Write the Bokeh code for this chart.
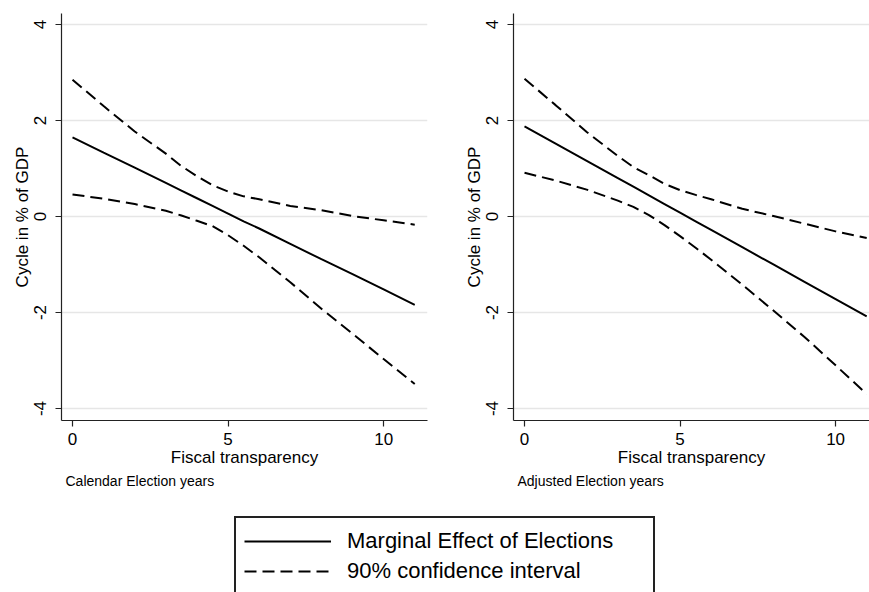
from bokeh.plotting import figure
from bokeh.models import FixedTicker, Title, Legend, LegendItem, Range1d, PrintfTickFormatter
from bokeh.layouts import column, row
from bokeh.embed import file_html
from bokeh.resources import INLINE

# ---- data ----
transparency = [0, 1, 2, 3, 3.5, 4, 4.5, 5, 5.5, 6, 7, 8, 9, 10, 11]

cal_effect = [1.65, 1.33, 1.02, 0.70, 0.54, 0.38, 0.22, 0.06, -0.10, -0.25, -0.57, -0.89, -1.20, -1.52, -1.84]
cal_upper = [2.85, 2.30, 1.77, 1.31, 1.05, 0.84, 0.65, 0.52, 0.42, 0.36, 0.22, 0.13, 0.01, -0.08, -0.17]
cal_lower = [0.46, 0.37, 0.26, 0.12, 0.02, -0.09, -0.20, -0.39, -0.61, -0.85, -1.37, -1.92, -2.44, -2.97, -3.49]

adj_effect = [1.88, 1.52, 1.16, 0.80, 0.62, 0.44, 0.26, 0.08, -0.10, -0.28, -0.64, -1.00, -1.36, -1.72, -2.08]
adj_upper = [2.87, 2.32, 1.76, 1.26, 1.03, 0.86, 0.68, 0.55, 0.45, 0.36, 0.16, 0.01, -0.15, -0.31, -0.45]
adj_lower = [0.91, 0.75, 0.56, 0.33, 0.20, 0.03, -0.18, -0.41, -0.65, -0.90, -1.42, -1.96, -2.51, -3.10, -3.70]

x_ticks = [0, 5, 10]
y_ticks = [-4, -2, 0, 2, 4]
x_label = "Fiscal transparency"
y_label = "Cycle in % of GDP"
panel_notes = ["Calendar Election years", "Adjusted Election years"]
legend_labels = ["Marginal Effect of Elections", "90% confidence interval"]

FONT = "Liberation Sans"
DASH = "12 6"


def panel(effect, lower, upper, note, width, border_left, border_right, x_end):
    p = figure(width=width, height=500, output_backend="svg", toolbar_location=None,
               x_range=Range1d(-0.354, x_end), y_range=Range1d(-4.25, 4.229),
               min_border_left=border_left, min_border_right=border_right,
               min_border_top=13, min_border_bottom=80)
    p.outline_line_color = None
    p.background_fill_color = "white"
    p.border_fill_color = "white"

    p.xgrid.visible = False
    p.ygrid.ticker = FixedTicker(ticks=y_ticks)
    p.ygrid.grid_line_color = "#e6e6e6"
    p.ygrid.grid_line_width = 1.5

    for ax in (p.xaxis[0], p.yaxis[0]):
        ax.axis_line_color = "#222222"
        ax.axis_line_width = 1.2
        ax.major_tick_line_color = "#222222"
        ax.major_tick_line_width = 1.2
        ax.major_tick_in = 0
        ax.major_tick_out = 6
        ax.minor_tick_line_color = None
        ax.major_label_text_font = FONT
        ax.major_label_text_font_size = "17px"
        ax.major_label_text_color = "black"
        ax.axis_label_text_font = FONT
        ax.axis_label_text_font_size = "17px"
        ax.axis_label_text_font_style = "normal"
        ax.axis_label_text_color = "black"
        ax.formatter = PrintfTickFormatter(format="%d")

    p.xaxis.ticker = FixedTicker(ticks=x_ticks)
    p.xaxis.axis_label = x_label
    p.xaxis.major_label_standoff = 6
    p.xaxis.axis_label_standoff = 0

    p.yaxis.ticker = FixedTicker(ticks=y_ticks)
    p.yaxis.axis_label = y_label
    p.yaxis.major_label_orientation = "parallel"
    p.yaxis.major_label_standoff = 9
    p.yaxis.axis_label_standoff = 0

    p.line(transparency, upper, line_color="black", line_width=2, line_dash=DASH)
    p.line(transparency, lower, line_color="black", line_width=2, line_dash=DASH)
    p.line(transparency, effect, line_color="black", line_width=2)

    p.add_layout(Title(text=note, align="left", text_font=FONT, text_font_size="14px",
                       text_font_style="normal", text_color="black", offset=4, standoff=2),
                 "below")
    return p


p1 = panel(cal_effect, cal_lower, cal_upper, panel_notes[0], 440, 61, 13, 11.41)
p2 = panel(adj_effect, adj_lower, adj_upper, panel_notes[1], 429, 73, 0, 11.09)

# legend panel: sample lines sit outside the visible range, only the legend shows
pl = figure(width=869, height=92, output_backend="svg", toolbar_location=None,
            x_range=Range1d(100, 101), y_range=Range1d(100, 101),
            x_axis_location=None, y_axis_location=None, min_border=0)
pl.outline_line_color = None
pl.grid.visible = False
r_solid = pl.line(transparency, cal_effect, line_color="black", line_width=2)
r_dash = pl.line(transparency, cal_upper, line_color="black", line_width=2, line_dash=DASH)
legend = Legend(items=[LegendItem(label=legend_labels[0], renderers=[r_solid]),
                       LegendItem(label=legend_labels[1], renderers=[r_dash])],
                location=(234, -4), orientation="vertical", padding=8, margin=0, spacing=0,
                glyph_width=87, glyph_height=30, label_height=30, label_standoff=16,
                label_width=298, label_text_font=FONT, label_text_font_size="22px",
                label_text_color="black", border_line_color="#222222", border_line_width=2,
                border_line_alpha=1.0,
                background_fill_color="white", background_fill_alpha=1.0)
pl.add_layout(legend)

layout = column(row(p1, p2), pl)
open("out.html", "w").write(file_html(layout, INLINE))
